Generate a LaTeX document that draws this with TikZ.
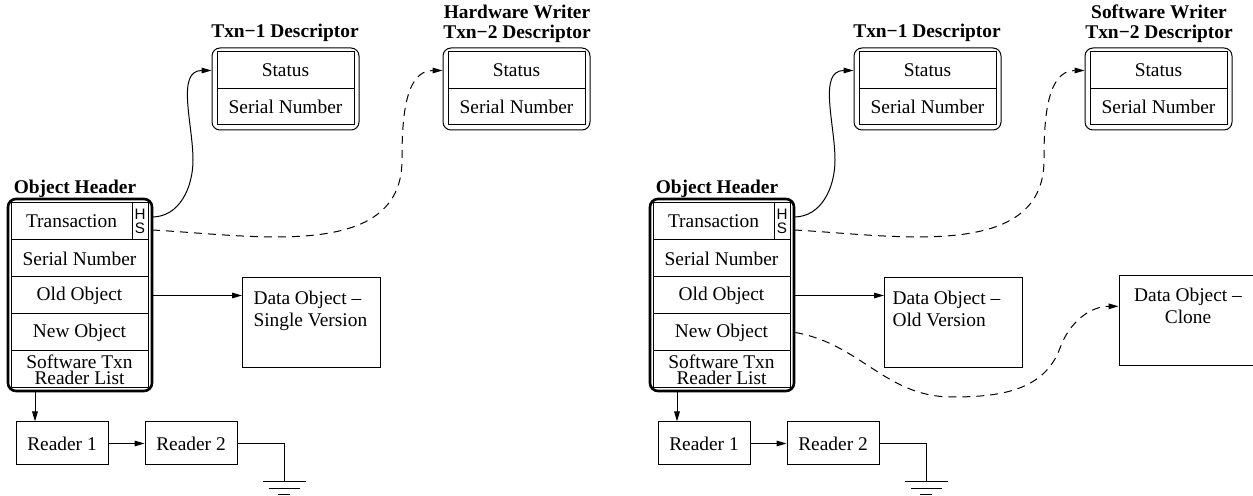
\documentclass[tikz,border=0pt]{standalone}
\usepackage{fontspec}
\setmainfont{Liberation Serif}
\newfontfamily\hsfont{Liberation Sans}
\usetikzlibrary{arrows.meta}
\tikzset{
  cell/.style={draw,line width=0.5pt,inner sep=0pt,minimum width=68.5pt,minimum height=18.5pt},
  hdrbox/.style={draw,line width=1.3pt,rounded corners=4pt,minimum width=72pt,minimum height=96pt},
  descbox/.style={draw,line width=0.5pt,rounded corners=4pt,minimum width=73.5pt,minimum height=41pt},
  databox/.style={draw,line width=0.5pt,minimum width=69pt,minimum height=45pt},
  readerbox/.style={draw,line width=0.5pt,minimum width=46pt,minimum height=21.5pt},
  hdrlabel/.style={font=\fontsize{9.7}{10}\selectfont\bfseries,align=center,inner sep=0pt},
  dashline/.style={dash pattern=on 4pt off 3pt},
}
% one object header with its descriptors and reader list
\newcommand{\txnpanel}[2]{%
  \node[hdrbox] (#1hdr) at (80,295) {};
  \node[hdrlabel] (#1hdrt) at (75,189) {Object Header};
  \node[cell,minimum width=60.5pt] (#1tr) at (71.5,221.5) {Transaction};
  \node[cell,minimum width=8pt,align=center,font=\hsfont\fontsize{7.6}{7.2}\selectfont] (#1hs) at (140,221.5) {H\\S};
  \node[cell] (#1sn) at (79.5,258.5) {Serial Number};
  \node[cell] (#1old) at (79.5,295.5) {Old Object};
  \node[cell] (#1new) at (79.5,332.5) {New Object};
  \node[cell,align=center,font=\fontsize{9.7}{8.2}\selectfont] (#1rl) at (79.5,369.5) {Software Txn\\Reader List};
  % descriptors
  \node[descbox] (#1d1) at (285.5,89) {};
  \node[cell] (#1st1) at (285.5,70.5) {Status};
  \node[cell,minimum height=18pt] (#1sr1) at (285.5,107) {Serial Number};
  \node[hdrlabel] (#1t1) at (285,33) {Txn−1 Descriptor};
  \node[descbox] (#1d2) at (516.5,89) {};
  \node[cell] (#1st2) at (516.5,70.5) {Status};
  \node[cell,minimum height=18pt] (#1sr2) at (516.5,107) {Serial Number};
  \node[hdrlabel] (#1t2) at (517,24) {#2 Writer\\Txn−2 Descriptor};
  \coordinate (#1h) at (152,217);
  \coordinate (#1s) at (152,230);
  \draw[->] (#1h) to[out=0,in=-90] (193,160) to[out=90,in=180] (#1st1 -| #1d1.west);
  \draw[dashline,->] (#1s) to[out=-3,in=-90] (402,160) to[out=90,in=180] (#1st2 -| #1d2.west);
  % readers
  \node[readerbox] (#1rd1) at (62,443.5) {Reader 1};
  \node[readerbox] (#1rd2) at (191,443.5) {Reader 2};
  \draw[->] (#1rd1) -- (#1rd2);
  \coordinate (#1dn) at (35,391);
  \draw[->] (#1dn) -- (#1dn |- #1rd1.north);
  \coordinate (#1gnd) at (284,482);
  \draw (#1rd2.east) -| (#1gnd);
  \draw (#1gnd) +(-21.5,0) -- +(21.5,0);
  \draw (#1gnd) +(-15.5,7) -- +(15.5,7);
  \draw (#1gnd) +(-6,13) -- +(6,13);
}

\begin{document}
\fontsize{9.7}{11}\selectfont
\begin{tikzpicture}[x=0.5pt,y=-0.5pt,>={Triangle[length=5pt,width=2.8pt]},line width=0.5pt]
  \useasboundingbox (0,0) rectangle (1253,496);
  \txnpanel{l}{Hardware}
  \node[databox] (ldata) at (311.5,323) {};
  \node[anchor=north west,align=left,inner sep=0pt] (ldatat) at (253,291) {Data Object --\\Single Version};
  \draw[->] (lold -| lhdr.east) -- (lold -| ldata.west);
  \begin{scope}[xshift=321pt]
    \txnpanel{r}{Software}
    \node[databox] (rdata) at (311.5,323) {};
    \node[anchor=north west,align=left,inner sep=0pt] (rdatat) at (250,291) {Data Object --\\Old Version};
    \draw[->] (rold -| rhdr.east) -- (rold -| rdata.west);
    \node[databox,minimum width=72pt] (rclone) at (549,321) {};
    \node[anchor=north,align=center,inner sep=0pt] (rclonet) at (546,288) {Data Object --\\Clone};
    \draw[dashline,->] (rnew -| rhdr.east) to[out=-10,in=180] (310,397) to[out=0,in=-110] (418,348) to[out=70,in=180] (rclonet -| rclone.west);
  \end{scope}
\end{tikzpicture}
\end{document}
